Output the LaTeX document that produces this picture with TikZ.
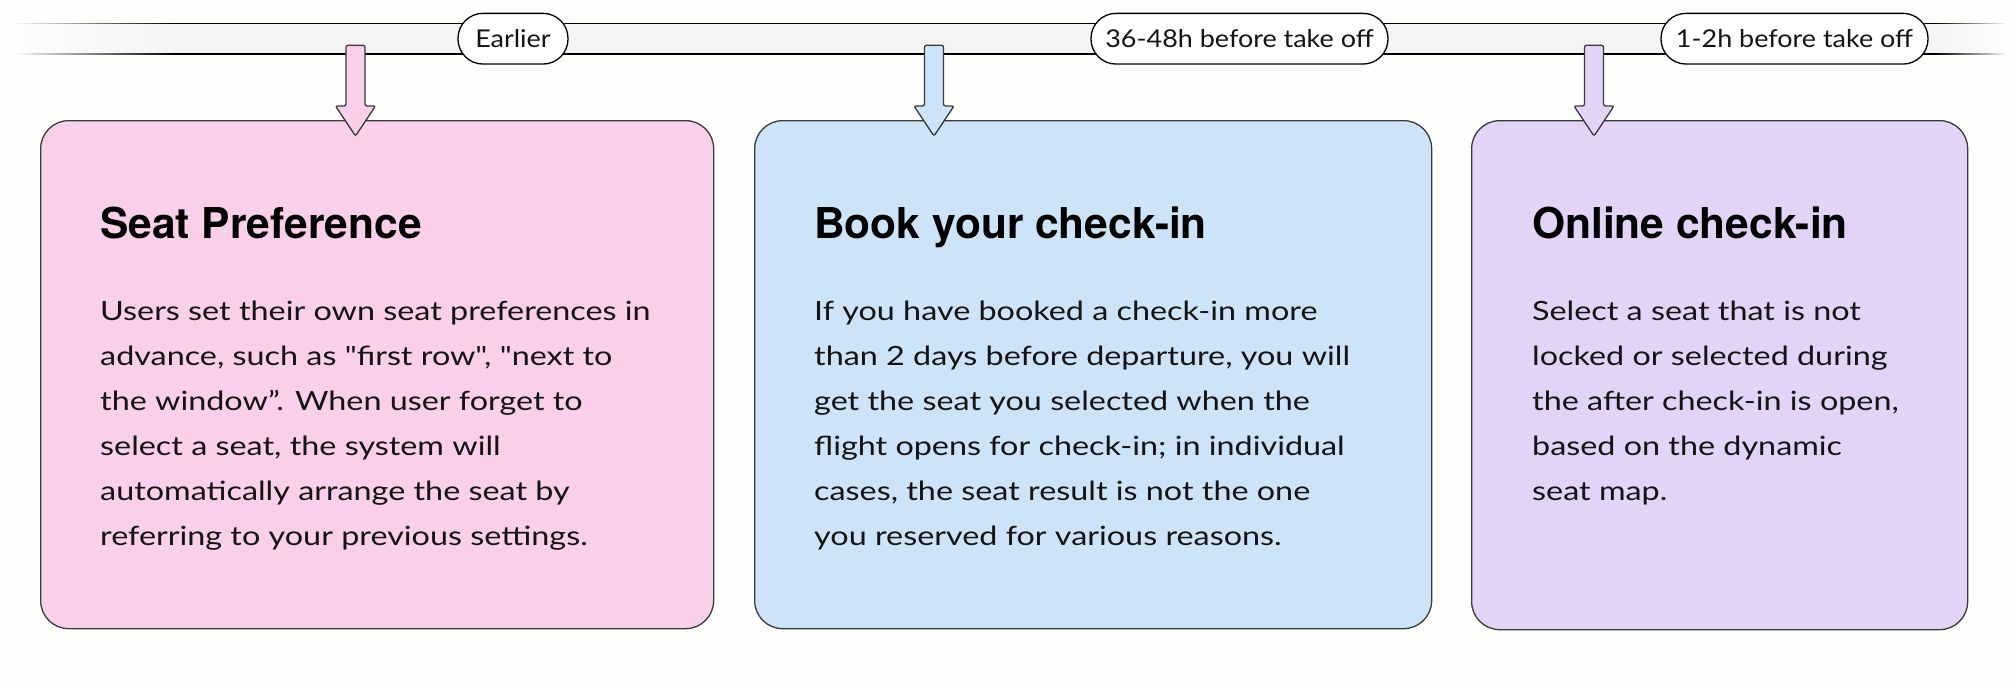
\documentclass[tikz,border=0pt]{standalone}
\usepackage{fontspec}
\setmainfont{Lato}[Ligatures=TeXOff, FakeStretch=1.22]
\newfontfamily\pillfont{Lato}[Ligatures=TeXOff, FakeStretch=1.1]
\newfontfamily\titlefont{TeX Gyre Heros}
\usetikzlibrary{fadings}
\definecolor{pinkbox}{HTML}{F9CFE9}
\definecolor{bluebox}{HTML}{CDE4F8}
\definecolor{purplebox}{HTML}{E2D3F7}
\definecolor{barfill}{HTML}{F4F4F5}
\definecolor{bgcol}{HTML}{FEFEFD}
\definecolor{ink}{HTML}{141414}
\definecolor{edge}{HTML}{3A3A3A}
\tikzfading[name=fadeopaqueleft, left color=transparent!0, right color=transparent!100]
\tikzfading[name=fadeopaqueright, left color=transparent!100, right color=transparent!0]
\newcommand\textline[1]{\hbox{#1}}
\tikzset{
  card/.style={draw=edge, line width=1.3pt, rounded corners=28pt, anchor=north west, inner sep=0pt},
  pill/.style={draw=black, line width=1.3pt, fill=white, rounded corners=25pt, minimum height=50.7pt, inner sep=0pt, font=\pillfont\fontsize{24.5}{28}\selectfont, text=ink},
  cardtitle/.style={anchor=base west, inner sep=0pt, font=\titlefont\bfseries\fontsize{42.5}{50}\selectfont, text=black},
  cardbody/.style={anchor=base west, inner sep=0pt, font=\fontsize{26.5}{45}\selectfont, text=ink},
  downarrow/.style={draw=edge, line width=1.3pt, rounded corners=2pt},
  barline/.style={line width=1.5pt, draw=black}
}
\begin{document}
\begin{tikzpicture}[x=1pt,y=-1pt]
\fill[bgcol] (0,0) rectangle (2011,686);
\useasboundingbox (0,0) rectangle (2011,686);
% timeline bar
\fill[barfill] (15,23.3) rectangle (2005,54);
\draw[barline] (15,23.3) -- (2005,23.3);
\draw[barline] (15,54) -- (2005,54);
\fill[bgcol, path fading=fadeopaqueleft] (13,20) rectangle (175,58);
\fill[bgcol, path fading=fadeopaqueright] (1935,20) rectangle (2008,58);
% pills
\node[pill, minimum width=110pt] (p1) at (513,38.7) {Earlier};
\node[pill, minimum width=297pt] (p2) at (1239.5,38.7) {36-48h before take off};
\node[pill, minimum width=267pt] (p3) at (1794.5,38.7) {1-2h before take off};
% cards
\node[card, fill=pinkbox, minimum width=673pt, minimum height=508pt] (b1) at (40,120) {};
\node[card, fill=bluebox, minimum width=677pt, minimum height=508pt] (b2) at (754,120) {};
\node[card, fill=purplebox, minimum width=496pt, minimum height=509pt] (b3) at (1471,120) {};
% arrows
\foreach \cx/\col in {355.5/pinkbox, 934/bluebox, 1594/purplebox}{
  \draw[downarrow, fill=\col, shift={(\cx,0)}] (-9.5,45.3) -- (9.5,45.3) -- (9.5,106) -- (20,106) -- (0,136) -- (-20,106) -- (-9.5,106) -- cycle;
}
% titles
\node[cardtitle] (t1) at (100,238) {Seat Preference};
\node[cardtitle] (t2) at (814,238) {Book your check-in};
\node[cardtitle] (t3) at (1532,238) {Online check-in};
% bodies
\node[cardbody] (d1) at (100,320) {\vtop{\baselineskip=45pt
  \textline{Users set their own seat preferences in}
  \textline{advance, such as "first row", "next to}
  \textline{the window”. When user forget to}
  \textline{select a seat, the system will}
  \textline{automatically arrange the seat by}
  \textline{referring to your previous settings.}}};
\node[cardbody] (d2) at (814,320) {\vtop{\baselineskip=45pt
  \textline{If you have booked a check-in more}
  \textline{than 2 days before departure, you will}
  \textline{get the seat you selected when the}
  \textline{flight opens for check-in; in individual}
  \textline{cases, the seat result is not the one}
  \textline{you reserved for various reasons.}}};
\node[cardbody] (d3) at (1532,320) {\vtop{\baselineskip=45pt
  \textline{Select a seat that is not}
  \textline{locked or selected during}
  \textline{the after check-in is open,}
  \textline{based on the dynamic}
  \textline{seat map.}}};
\end{tikzpicture}
\end{document}
